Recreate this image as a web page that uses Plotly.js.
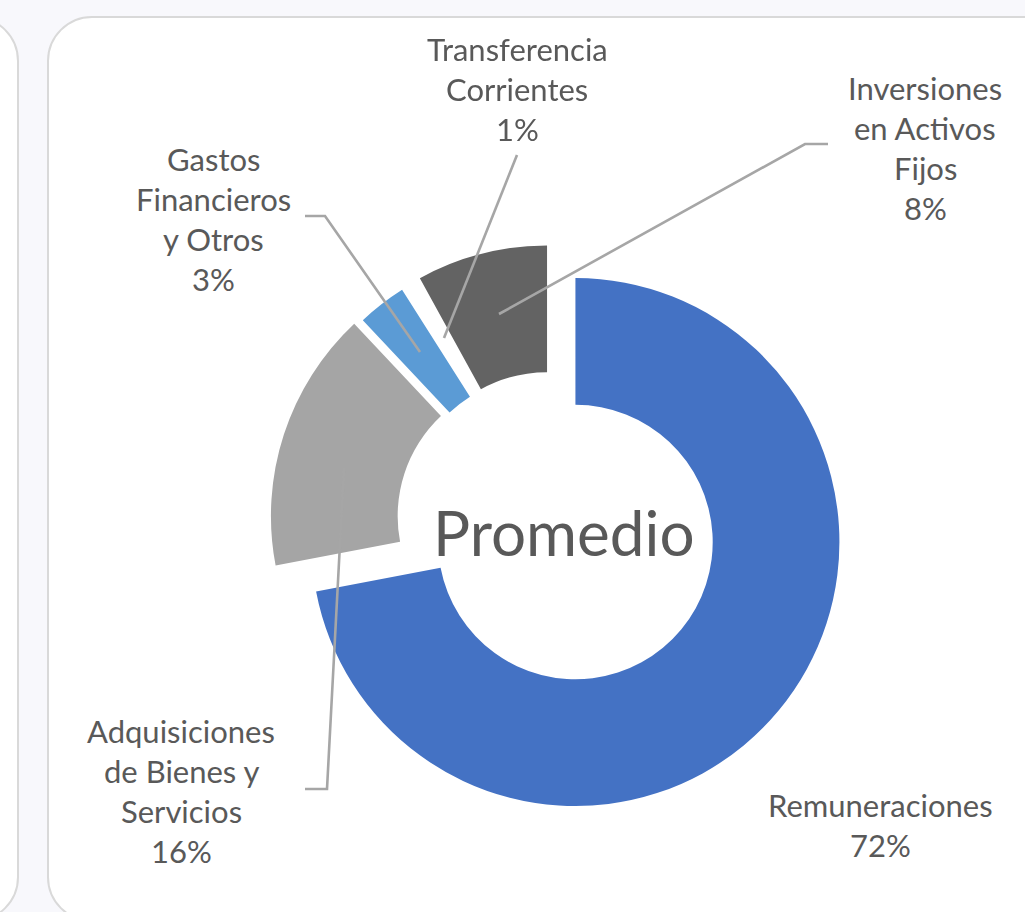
<!DOCTYPE html>
<html>
<head>
<meta charset="utf-8">
<script src="https://cdn.plot.ly/plotly-3.0.1.min.js"></script>
<style>
  html, body { margin:0; padding:0; width:1025px; height:912px; overflow:hidden; background:#F8F8FC; }
  .panel { position:absolute; box-sizing:border-box; background:#FFFFFF; border:2.4px solid #D9D9D9; border-radius:45px; }
  #chart { position:absolute; left:0; top:0; width:1025px; height:912px; }
</style>
</head>
<body>
<div class="panel" style="left:-181px; top:16px; width:200px; height:906px;"></div>
<div class="panel" style="left:47px; top:16px; width:1100px; height:906px;"></div>
<div id="chart"></div>
<script>
// ---- data ----
const categories = ['Remuneraciones', 'Adquisiciones de Bienes y Servicios', 'Gastos Financieros y Otros', 'Transferencia Corrientes', 'Inversiones en Activos Fijos'];
const values = [72, 16, 3, 1, 8];
const labelLines = [
  ['Remuneraciones'],
  ['Adquisiciones', 'de Bienes y', 'Servicios'],
  ['Gastos', 'Financieros', 'y Otros'],
  ['Transferencia', 'Corrientes'],
  ['Inversiones', 'en Activos', 'Fijos']
];
const centerLabel = 'Promedio';

// ---- styling ----
const colors = ['#4472C4', '#A5A5A5', '#5B9BD5', 'rgba(0,0,0,0)', '#636363'];
const pulls = [0.125, 0.06, 0.04, 0.04, 0.045];

const W = 1025, H = 912;
const px = x => x / W;
const py = y => 1 - y / H;

// label anchor positions (pixels): center x, first line y
const labelPos = [
  [880, 805],
  [181, 731],
  [213, 159],
  [517, 49],
  [925, 88]
];
const lineStep = 40;
const textColor = '#595959';
const font = 'Lato, "Open Sans", sans-serif';

const total = values.reduce((a, b) => a + b, 0);
const annotations = [];
categories.forEach((c, i) => {
  const lines = labelLines[i].concat([Math.round(values[i] / total * 100) + '%']);
  lines.forEach((t, k) => {
    annotations.push({
      xref: 'paper', yref: 'paper',
      x: px(labelPos[i][0]), y: py(labelPos[i][1] + k * lineStep),
      xanchor: 'center', yanchor: 'middle',
      text: t, showarrow: false,
      font: { family: font, size: 31, color: textColor }
    });
  });
});
annotations.push({
  xref: 'paper', yref: 'paper', x: px(564), y: py(532),
  xanchor: 'center', yanchor: 'middle', text: centerLabel, showarrow: false,
  font: { family: font, size: 62, color: textColor }
});

// leader lines (pixels)
const leaders = [
  [[344, 468], [327, 789], [305, 789]],
  [[420, 352], [325, 216], [305, 216]],
  [[444, 338], [517, 155]],
  [[499, 314], [805, 144], [828, 144]]
];
const shapes = leaders.map(pts => ({
  type: 'path', xref: 'paper', yref: 'paper', layer: 'above',
  path: pts.map((p, k) => (k ? 'L' : 'M') + px(p[0]) + ',' + py(p[1])).join(' '),
  line: { color: '#A6A6A6', width: 2.6 }
}));

const trace = {
  type: 'pie',
  labels: categories,
  values: values,
  sort: false,
  direction: 'clockwise',
  rotation: 0,
  hole: 0.52,
  pull: pulls,
  textinfo: 'none',
  hoverinfo: 'none',
  marker: { colors: colors, line: { width: 0 } },
  domain: { x: [px(550 - 297), px(550 + 297)], y: [py(521 + 297), py(521 - 297)] },
  showlegend: false
};

Plotly.newPlot('chart', [trace], {
  width: W, height: H,
  margin: { l: 0, r: 0, t: 0, b: 0 },
  paper_bgcolor: 'rgba(0,0,0,0)',
  plot_bgcolor: 'rgba(0,0,0,0)',
  showlegend: false,
  annotations: annotations,
  shapes: shapes
}, { displayModeBar: false, staticPlot: true });
</script>
</body>
</html>
